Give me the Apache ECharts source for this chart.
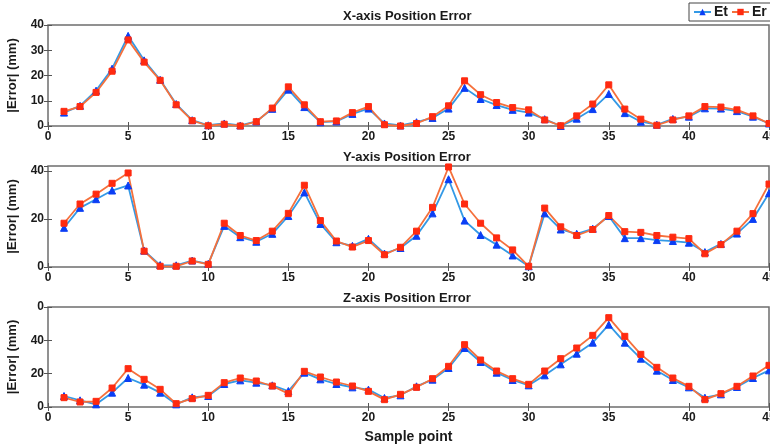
<!DOCTYPE html>
<html>
<head>
<meta charset="utf-8">
<script src="https://cdn.jsdelivr.net/npm/echarts@6/dist/echarts.min.js"></script>
<style>
  html, body { margin: 0; padding: 0; background: #fff; }
  #chart { width: 770px; height: 445px; }
</style>
</head>
<body>
<div id="chart"></div>
<script>
// sample index (x axis)
var samples = [1, 2, 3, 4, 5, 6, 7, 8, 9, 10, 11, 12, 13, 14, 15, 16, 17, 18, 19, 20,
  21, 22, 23, 24, 25, 26, 27, 28, 29, 30, 31, 32, 33, 34, 35, 36, 37, 38, 39, 40,
  41, 42, 43, 44, 45];

// X-axis position error
var xEt = [5.3, 8, 14, 22.7, 35.7, 26, 18.3, 8.7, 2.3, 0.3, 1, 0.2, 1.8, 6.8, 14.4, 7.5, 1.5, 1.8, 4.8, 6.9,
  1, 0.2, 1.5, 3.2, 6.9, 15.1, 10.7, 8.3, 6.4, 5.3, 2.7, 0, 2.9, 6.7, 12.7, 5.1, 1.7, 0.5, 2.8, 3.7,
  7, 6.9, 5.9, 3.7, 1];
var xEr = [5.8, 7.7, 13.3, 21.7, 34.1, 25.3, 18.1, 8.4, 2.1, 0.1, 0.7, 0, 1.7, 7.1, 15.5, 8.4, 1.7, 2, 5.3, 7.7,
  0.5, 0, 1, 3.7, 8, 17.9, 12.4, 9.3, 7.3, 6.4, 2.4, 0.1, 4, 8.7, 16.3, 6.7, 2.7, 0.3, 2.4, 4,
  7.7, 7.5, 6.4, 4, 1];

// Y-axis position error
var yEt = [16.3, 24.6, 28.2, 31.8, 33.9, 6.8, 0.8, 0.7, 2.7, 1.3, 17.1, 12.4, 10.5, 13.8, 21.2, 31, 17.9, 10.3, 8.8, 11.7,
  5.6, 7.9, 13, 22.3, 36.5, 19.3, 13.3, 9.3, 4.8, 0.3, 22.3, 15.6, 13.8, 15.9, 21.2, 12, 12, 11.2, 10.8, 10.1,
  6.2, 9.6, 13.9, 20, 30.7];
var yEr = [18.2, 26.2, 30.3, 34.8, 39.1, 6.6, 0.3, 0.3, 2.5, 1.1, 18.2, 13.1, 11, 14.9, 22.3, 34, 19.3, 10.8, 8.3, 11,
  5.1, 8.2, 14.9, 24.8, 41.6, 26.2, 18.2, 12.1, 7.1, 0.3, 24.5, 16.7, 13.1, 15.6, 21.4, 14.7, 14.4, 13.1, 12.4, 11.8,
  5.5, 9.3, 14.9, 22.2, 34.5];

// Z-axis position error
var zEt = [6.6, 4, 1.6, 8.6, 17.4, 13.4, 8.6, 1.6, 5.8, 6.6, 13.8, 16, 14.6, 13, 9.6, 20.6, 16.6, 13.8, 11.8, 10.4,
  5.4, 7, 12.4, 16.4, 23.4, 35.4, 27, 20.6, 16.2, 13, 19, 25.6, 32, 38.6, 49.4, 38.6, 29, 21.8, 16.2, 11.8,
  5.6, 7.6, 12, 17.4, 22];
var zEr = [5.6, 3, 3.4, 11.4, 23, 16.6, 10.6, 2, 5, 7, 14.6, 17.4, 15.6, 12.6, 8, 21.4, 18, 15, 12.6, 9.4,
  4.4, 7.6, 11.8, 17, 24.4, 37.4, 28.2, 21.6, 17, 13.6, 21.6, 29, 35.4, 43, 53.6, 42.4, 31.6, 23.8, 17.4, 12.4,
  4.4, 8, 12.4, 18.6, 25];

var titles = ["X-axis Position Error", "Y-axis Position Error", "Z-axis Position Error"];

function pairs(vals) {
  return samples.map(function (s, i) { return [s, vals[i]]; });
}

var font = "Liberation Sans, Arial, sans-serif";
var txt = "#1a1a1a";
var tops = [25, 166, 307];
var heights = [101, 101, 100];
var yMax = [40, 42, 60];
var yStep = [10, 20, 20];

var chart = echarts.init(document.getElementById("chart"));

var grids = [], xAxes = [], yAxes = [], series = [], title = [];
for (var g = 0; g < 3; g++) {
  grids.push({
    left: 48, right: 1, top: tops[g], height: heights[g],
    containLabel: false, outerBoundsMode: "none",
    show: true, borderColor: "#6e6e6e", borderWidth: 1.5, backgroundColor: "#fff"
  });
  title.push({
    text: titles[g], left: 343, top: tops[g] - 15, padding: 0,
    textStyle: { fontFamily: font, fontSize: 13, fontWeight: "bold", color: txt }
  });
  // bottom x axis with labels
  xAxes.push({
    type: "value", gridIndex: g, min: 0, max: 45, interval: 5,
    axisLine: { show: false },
    axisTick: { inside: true, length: 4, lineStyle: { color: "#555" } },
    splitLine: { show: false },
    axisLabel: { margin: 5, hideOverlap: false, fontFamily: font, fontSize: 12, fontWeight: "bold", color: txt },
    name: g === 2 ? "Sample point" : "",
    nameLocation: "middle", nameGap: 23,
    nameTextStyle: { fontFamily: font, fontSize: 14, fontWeight: "bold", color: txt }
  });
  // top x axis: ticks only
  xAxes.push({
    type: "value", gridIndex: g, position: "top", min: 0, max: 45, interval: 5,
    axisLine: { show: false }, axisLabel: { show: false }, splitLine: { show: false },
    axisTick: { inside: true, length: 4, lineStyle: { color: "#555" } }
  });
  yAxes.push({
    type: "value", gridIndex: g, min: 0, max: yMax[g], interval: yStep[g],
    axisLine: { show: false },
    axisTick: { inside: true, length: 4, lineStyle: { color: "#555" } },
    splitLine: { show: false },
    axisLabel: {
      margin: 4, showMaxLabel: g !== 1, fontFamily: font, fontSize: 12, fontWeight: "bold", color: txt,
      formatter: function (v) { return v === 60 ? "0" : String(v); }
    },
    name: "|Error| (mm)", nameLocation: "middle", nameGap: 29,
    nameTextStyle: { fontFamily: font, fontSize: 13, fontWeight: "bold", color: txt }
  });
  yAxes.push({
    type: "value", gridIndex: g, position: "right", min: 0, max: yMax[g], interval: yStep[g],
    axisLine: { show: false }, axisLabel: { show: false }, splitLine: { show: false },
    axisTick: { inside: true, length: 4, lineStyle: { color: "#555" } }
  });
}

var etSets = [xEt, yEt, zEt];
var erSets = [xEr, yEr, zEr];
for (var k = 0; k < 3; k++) {
  series.push({
    name: "Et", type: "line", xAxisIndex: k * 2, yAxisIndex: k * 2,
    data: pairs(etSets[k]),
    symbol: "triangle", symbolSize: 7,
    lineStyle: { color: "#3399e6", width: 1.8 },
    itemStyle: { color: "#0a3ef5", borderColor: "#0a3ef5" },
    animation: false
  });
  series.push({
    name: "Er", type: "line", xAxisIndex: k * 2, yAxisIndex: k * 2,
    data: pairs(erSets[k]),
    symbol: "rect", symbolSize: 6,
    lineStyle: { color: "#f5703c", width: 1.8 },
    itemStyle: { color: "#ff2a10", borderColor: "#ff2a10" },
    animation: false
  });
}

chart.setOption({
  animation: false,
  title: title,
  legend: {
    data: ["Et", "Er"],
    orient: "horizontal",
    left: 689, top: 3, width: 200,
    itemWidth: 17, itemHeight: 8, itemGap: 3,
    padding: [2, 14, 2, 4],
    borderColor: "#444", borderWidth: 1, backgroundColor: "#fff",
    textStyle: { fontFamily: font, fontSize: 14, fontWeight: "bold", color: txt, padding: [0, 0, 0, -2] }
  },
  grid: grids,
  xAxis: xAxes,
  yAxis: yAxes,
  series: series
});
</script>
</body>
</html>
